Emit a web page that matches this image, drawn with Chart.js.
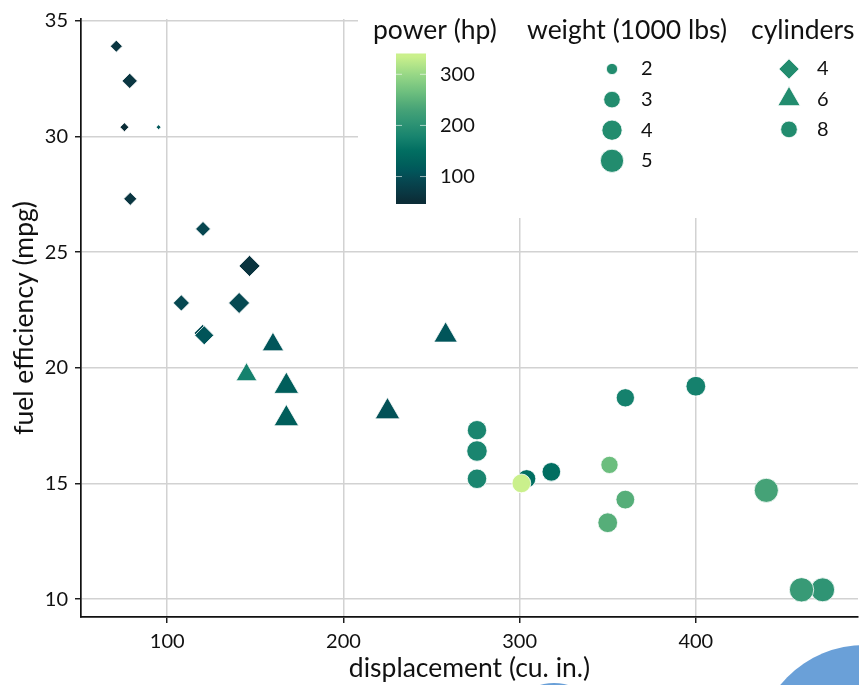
<!DOCTYPE html>
<html>
<head>
<meta charset="utf-8">
<title>Fuel efficiency vs displacement</title>
<script src="https://cdn.jsdelivr.net/npm/chart.js"></script>
<style>
  html, body { margin: 0; padding: 0; background: #fff; }
  #wrap { position: relative; width: 859px; height: 685px; overflow: hidden; }
  #plot { position: absolute; left: 0; top: 0; }
  .blob { position: absolute; border-radius: 50%; background: #6aa0d8; }
</style>
</head>
<body>
<div id="wrap">
  <canvas id="plot" width="859" height="685"></canvas>
  <div class="blob" style="left:755px; top:645px; width:220px; height:220px;"></div>
  <div class="blob" style="left:502px; top:683px; width:104px; height:104px;"></div>
</div>
<script>
// mtcars: one entry per car, in the original row order
const displacement = [160, 160, 108, 258, 360, 225, 360, 146.7, 140.8, 167.6, 167.6, 275.8, 275.8, 275.8,
  472, 460, 440, 78.7, 75.7, 71.1, 120.1, 318, 304, 350, 400, 79, 120.3, 95.1, 351, 145, 301, 121];
const mpg = [21.0, 21.0, 22.8, 21.4, 18.7, 18.1, 14.3, 24.4, 22.8, 19.2, 17.8, 16.4, 17.3, 15.2,
  10.4, 10.4, 14.7, 32.4, 30.4, 33.9, 21.5, 15.5, 15.2, 13.3, 19.2, 27.3, 26.0, 30.4, 15.8, 19.7, 15.0, 21.4];
const horsepower = [110, 110, 93, 110, 175, 105, 245, 62, 95, 123, 123, 180, 180, 180,
  205, 215, 230, 66, 52, 65, 97, 150, 150, 245, 175, 66, 91, 113, 264, 175, 335, 109];
const weight = [2.620, 2.875, 2.320, 3.215, 3.440, 3.460, 3.570, 3.190, 3.150, 3.440, 3.440, 4.070, 3.730, 3.780,
  5.250, 5.424, 5.345, 2.200, 1.615, 1.835, 2.465, 3.520, 3.435, 3.840, 3.845, 1.935, 2.140, 1.513, 3.170, 2.770, 3.570, 2.780];
const cylinders = [6, 6, 4, 6, 8, 6, 8, 4, 4, 6, 6, 8, 8, 8, 8, 8, 8, 4, 4, 4, 4, 8, 8, 8, 8, 4, 4, 4, 8, 6, 8, 4];

// axis breaks and legend breaks
const xTicks = [100, 200, 300, 400];
const yTicks = [10, 15, 20, 25, 30, 35];
const hpBreaks = [100, 200, 300];
const weightBreaks = [2, 3, 4, 5];
const cylinderBreaks = [4, 6, 8];

// sequential palette for horsepower (dark teal -> light yellow-green)
const paletteHp = [52, 64, 95, 110, 123, 150, 177, 210, 230, 245, 264, 300, 335];
const paletteCol = ['#0b2d37', '#0a3540', '#064952', '#01555a', '#005e5b', '#016e61', '#17836e',
  '#339775', '#45a277', '#56ae79', '#6cbe7e', '#98d886', '#caf08c'];

const FONT = 'Lato, "Open Sans", sans-serif';
const TEXT = '#111111';
const TICK_PX = 20;
const TITLE_PX = 26.5;
const KEY_FILL = '#228c6e';

function hexToRgb(h) {
  const n = parseInt(h.slice(1), 16);
  return [(n >> 16) & 255, (n >> 8) & 255, n & 255];
}
const paletteRgb = paletteCol.map(hexToRgb);

function hpColour(v) {
  if (v <= paletteHp[0]) return paletteCol[0];
  if (v >= paletteHp[paletteHp.length - 1]) return paletteCol[paletteCol.length - 1];
  let i = 0;
  while (v > paletteHp[i + 1]) i++;
  const t = (v - paletteHp[i]) / (paletteHp[i + 1] - paletteHp[i]);
  const a = paletteRgb[i], b = paletteRgb[i + 1];
  const c = a.map((x, k) => Math.round(x + (b[k] - x) * t));
  return `rgb(${c[0]},${c[1]},${c[2]})`;
}

// area scale for weight: size 1..6 over the observed range
const wMin = Math.min(...weight), wMax = Math.max(...weight);
function sizeOf(w) {
  const t = Math.max(0, Math.min(1, (w - wMin) / (wMax - wMin)));
  return 1 + 5 * Math.sqrt(t);
}
const PX_PER_SIZE = 2.03;
const styleOf = { 4: 'rectRot', 6: 'triangle', 8: 'circle' };
const shapeFactor = { circle: 1, rectRot: 1.22, triangle: 1.55 };
function radiusOf(size, style) { return size * PX_PER_SIZE * shapeFactor[style]; }

// 5% expansion around the data range on both axes
function expand(arr) {
  const lo = Math.min(...arr), hi = Math.max(...arr), pad = 0.05 * (hi - lo);
  return [lo - pad, hi + pad];
}
const [xMin, xMax] = expand(displacement);
const [yMin, yMax] = expand(mpg);

const points = displacement.map((d, i) => ({ x: d, y: mpg[i] }));
const pointStyles = cylinders.map(c => styleOf[c]);
const pointRadii = weight.map((w, i) => radiusOf(sizeOf(w), pointStyles[i]));
const pointColours = horsepower.map(hpColour);

function drawKeyShape(ctx, style, x, y, r) {
  ctx.beginPath();
  if (style === 'circle') {
    ctx.arc(x, y, r, 0, Math.PI * 2);
  } else if (style === 'rectRot') {
    ctx.moveTo(x - r, y); ctx.lineTo(x, y - r); ctx.lineTo(x + r, y); ctx.lineTo(x, y + r);
  } else {
    const h = r * Math.sqrt(3) / 2;
    ctx.moveTo(x, y - r); ctx.lineTo(x + h, y + r / 2); ctx.lineTo(x - h, y + r / 2);
  }
  ctx.closePath();
  ctx.fill();
  ctx.stroke();
}

// legend panel: colour bar, size key and shape key in the upper right
const keyPanel = {
  id: 'keyPanel',
  afterDraw(chart) {
    const ctx = chart.ctx;
    ctx.save();
    ctx.fillStyle = '#fff';
    ctx.fillRect(358, 0, chart.width - 358, 218);

    ctx.fillStyle = TEXT;
    ctx.textAlign = 'left';
    ctx.textBaseline = 'alphabetic';
    ctx.font = `${TITLE_PX}px ${FONT}`;
    ctx.fillText('power (hp)', 373, 39);
    ctx.fillText('weight (1000 lbs)', 527, 39);
    ctx.fillText('cylinders', 751, 39);

    // colour bar
    const hpLo = Math.min(...horsepower), hpHi = Math.max(...horsepower);
    const barPad = 0.02 * (hpHi - hpLo);
    const lo = hpLo - barPad, hi = hpHi + barPad;
    const bx = 396, bw = 30, bt = 53.5, bb = 204;
    const grad = ctx.createLinearGradient(0, bt, 0, bb);
    grad.addColorStop(0, hpColour(hi));
    paletteHp.forEach((v, i) => {
      const off = (hi - v) / (hi - lo);
      if (off > 0 && off < 1) grad.addColorStop(off, paletteCol[i]);
    });
    grad.addColorStop(1, hpColour(lo));
    ctx.fillStyle = grad;
    ctx.fillRect(bx, bt, bw, bb - bt);

    ctx.font = `${TICK_PX}px ${FONT}`;
    ctx.textBaseline = 'middle';
    hpBreaks.forEach(v => {
      const y = bb - (v - lo) / (hi - lo) * (bb - bt);
      ctx.strokeStyle = 'rgba(255,255,255,0.6)';
      ctx.lineWidth = 1;
      ctx.beginPath();
      ctx.moveTo(bx, y); ctx.lineTo(bx + 6, y);
      ctx.moveTo(bx + bw - 6, y); ctx.lineTo(bx + bw, y);
      ctx.stroke();
      ctx.fillStyle = TEXT;
      ctx.fillText(String(v), 440, y);
    });

    // weight key
    ctx.strokeStyle = '#fff';
    ctx.lineWidth = 0.8;
    weightBreaks.forEach((w, i) => {
      const y = 69 + i * 30.6;
      ctx.fillStyle = KEY_FILL;
      drawKeyShape(ctx, 'circle', 612, y, radiusOf(sizeOf(w), 'circle'));
      ctx.fillStyle = TEXT;
      ctx.fillText(String(w), 641, y);
    });

    // cylinder key
    cylinderBreaks.forEach((c, i) => {
      const y = 69 + i * 30.2;
      const st = styleOf[c];
      ctx.fillStyle = KEY_FILL;
      drawKeyShape(ctx, st, 789, y, radiusOf(4.1, st));
      ctx.fillStyle = TEXT;
      ctx.fillText(String(c), 817, y);
    });
    ctx.restore();
  }
};

const axisCommon = {
  type: 'linear',
  grid: {
    color: '#d2d2d2',
    lineWidth: 1.5,
    drawTicks: true,
    tickLength: 6,
    tickColor: '#111111',
    tickWidth: 1.4
  },
  border: { display: true, color: '#111111', width: 1.7 }
};

new Chart(document.getElementById('plot'), {
  type: 'scatter',
  data: {
    datasets: [{
      data: points,
      pointStyle: pointStyles,
      pointRadius: pointRadii,
      pointBackgroundColor: pointColours,
      pointBorderColor: '#ffffff',
      pointBorderWidth: 0.8
    }]
  },
  options: {
    responsive: false,
    animation: false,
    events: [],
    layout: { autoPadding: false, padding: { top: 15.3, right: 1, left: 0, bottom: 0 } },
    plugins: { legend: { display: false }, tooltip: { enabled: false } },
    scales: {
      x: {
        ...axisCommon,
        position: 'bottom',
        min: xMin,
        max: xMax,
        afterBuildTicks: s => { s.ticks = xTicks.map(v => ({ value: v })); },
        afterFit: s => { s.height = 68; },
        ticks: { font: { family: FONT, size: TICK_PX }, color: TEXT, padding: 7, maxRotation: 0 },
        title: {
          display: true,
          text: 'displacement (cu. in.)',
          color: TEXT,
          font: { family: FONT, size: TITLE_PX },
          padding: { top: 0, bottom: 1 }
        }
      },
      y: {
        ...axisCommon,
        position: 'left',
        min: yMin,
        max: yMax,
        afterBuildTicks: s => { s.ticks = yTicks.map(v => ({ value: v })); },
        afterFit: s => { s.width = 81; },
        ticks: { font: { family: FONT, size: TICK_PX }, color: TEXT, padding: 7 },
        title: {
          display: true,
          text: 'fuel efficiency (mpg)',
          color: TEXT,
          font: { family: FONT, size: TITLE_PX },
          padding: { top: 8.4, bottom: 0 }
        }
      }
    }
  },
  plugins: [keyPanel]
});
</script>
</body>
</html>
